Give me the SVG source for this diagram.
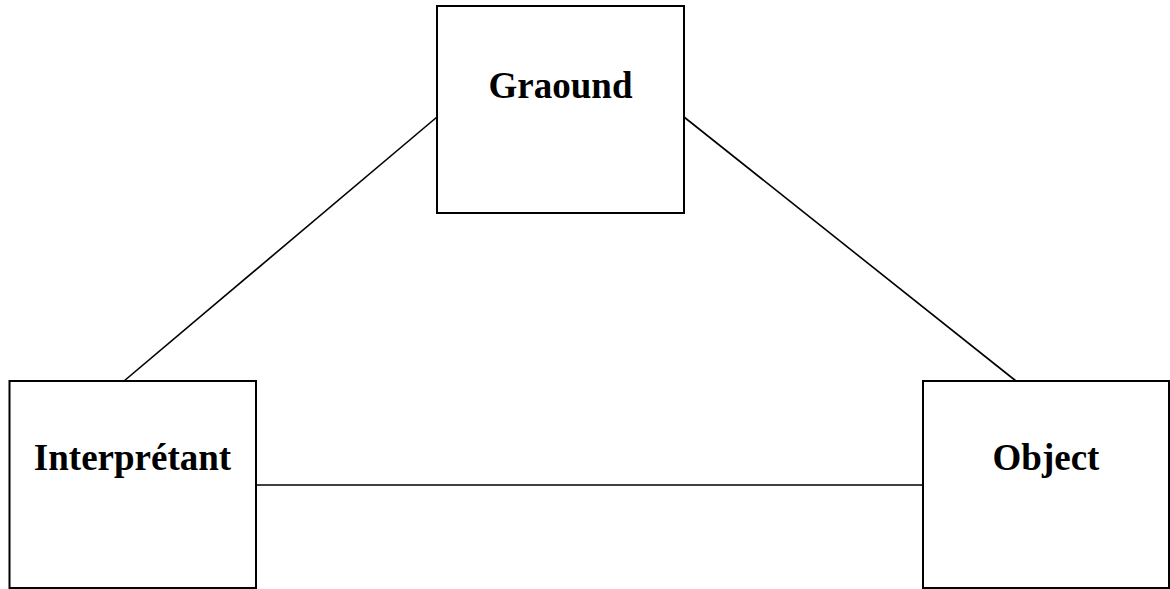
<svg xmlns="http://www.w3.org/2000/svg" width="1170" height="589" viewBox="0 0 1170 589">
  <style>
    .box { fill: #ffffff; stroke: #000000; stroke-width: 2; }
    .label { font-family: "Liberation Serif", "Times New Roman", serif; font-weight: bold; font-size: 37px; fill: #000000; text-anchor: middle; }
    .link { stroke: #000000; stroke-width: 1.6; fill: none; }
  </style>
  <rect width="1170" height="589" fill="#ffffff"/>
  <g id="connectors">
    <line class="link" x1="437" y1="117" x2="124" y2="381"/>
    <line class="link" x1="684" y1="117" x2="1016" y2="381"/>
    <line class="link" x1="256" y1="485" x2="923" y2="485"/>
  </g>
  <g id="ground">
    <rect class="box" x="437" y="6" width="247" height="207"/>
    <text class="label" x="560.5" y="98">Graound</text>
  </g>
  <g id="interpretant">
    <rect class="box" x="9.5" y="381" width="246.5" height="207"/>
    <text class="label" x="132.5" y="470">Interprétant</text>
  </g>
  <g id="object">
    <rect class="box" x="923" y="381" width="246" height="207"/>
    <text class="label" x="1046" y="470">Object</text>
  </g>
</svg>
